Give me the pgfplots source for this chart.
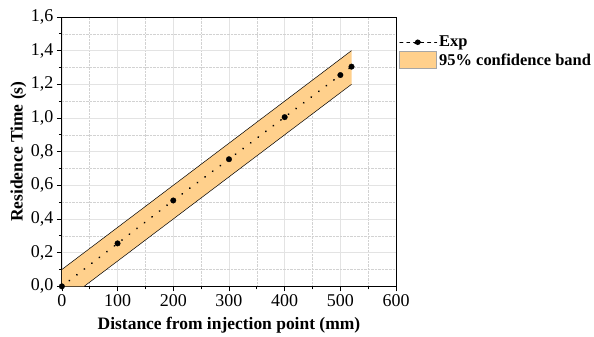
\documentclass[border=0pt]{standalone}
\usepackage{pgfplots}
\pgfplotsset{compat=1.18}
\usepackage{fontspec}
\setmainfont{Liberation Serif}
\definecolor{bandfill}{HTML}{FFD08C}
\begin{document}
\begin{tikzpicture}
\begin{axis}[
  scale only axis,
  width=335pt, height=270pt,
  xmin=0, xmax=600, ymin=0, ymax=1.6,
  xtick={0,100,...,600},
  ytick={0,0.2,...,1.6},
  minor xtick={50,150,...,550},
  minor ytick={0.1,0.3,...,1.5},
  tick align=outside,
  xtick pos=bottom, ytick pos=left,
  major tick length=5pt, minor tick length=3pt,
  ytick style={black, line width=0.7pt}, xtick style={black, line width=0.7pt},
  grid=both,
  major grid style={gray!22, line width=0.6pt},
  minor grid style={gray!35, densely dotted, line width=0.5pt},
  axis line style={black, line width=0.9pt},
  /pgf/number format/.cd, fixed, fixed zerofill, precision=1, use comma, assume math mode=true,
  /pgfplots/.cd,
  xticklabel style={/pgf/number format/precision=0, /pgf/number format/fixed zerofill=false},
  tick label style={font=\fontsize{18}{20}\selectfont},
  xlabel={\textbf{Distance from injection point (mm)}},
  ylabel={\textbf{Residence Time (s)}},
  label style={font=\fontsize{17.5}{20}\selectfont},
  xlabel style={at={(axis description cs:0.5,-0.144)}, anchor=center},
  ylabel style={at={(axis description cs:-0.13,0.5)}, anchor=center},
  legend style={at={(axis description cs:1,1)}, anchor=north west, xshift=2pt, yshift=-17pt,
    draw=none, fill=none,
    font=\fontsize{16.5}{18}\selectfont\bfseries, row sep=1pt,
    inner xsep=1pt, inner ysep=0pt},
  legend cell align=left,
  clip=true,
]
\addplot[fill=bandfill, draw=none, forget plot] coordinates {(0,0) (0,0.1) (520,1.4) (520,1.2) (40,0)} -- cycle;
\addplot[black, line width=0.5pt, forget plot] coordinates {(0,0.1) (520,1.4)};
\addplot[black, line width=0.5pt, forget plot] coordinates {(40,0) (520,1.2)};
\addplot[black, line width=2pt, dash pattern=on 0.01pt off 9.5pt, line cap=round,
  mark=*, mark size=2.8pt, mark options={solid, fill=black, draw=black, line width=0.3pt},
  legend image code/.code={
    \draw[black, line width=1pt, dash pattern=on 3pt off 4pt] (0pt,0pt) -- (37pt,0pt);
    \fill[black] (18pt,0pt) circle (2.8pt);}]
  coordinates {(0,0) (100,0.255) (200,0.51) (300,0.755) (400,1.005) (500,1.255) (520,1.305)};
\addlegendentry{Exp}
\addlegendimage{legend image code/.code={
  \draw[fill=bandfill, draw=gray!70, line width=0.6pt] (0pt,-8.5pt) rectangle (37pt,8.5pt);}}
\addlegendentry{95\% confidence band}
\end{axis}
\path ([xshift=-62pt,yshift=-50pt]current axis.south west) ([xshift=197pt,yshift=17pt]current axis.north east);
\end{tikzpicture}
\end{document}
